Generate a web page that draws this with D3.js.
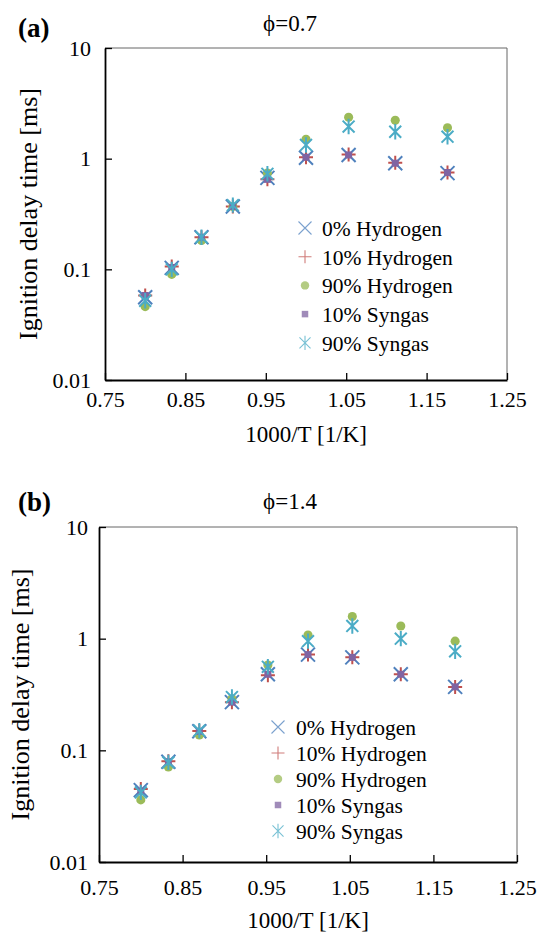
<!DOCTYPE html>
<html>
<head>
<meta charset="utf-8">
<script src="https://cdn.jsdelivr.net/npm/d3@7"></script>
<style>
	body { margin: 0; background: #fff; }
	svg { display: block; font-family: 'Liberation Serif', 'Times New Roman', serif; }
</style>
</head>
<body>
<div class="svg-container"></div>
<script>
const w = 539;
const h = 934;

// 1000/T [1/K]
const invT = [0.8, 0.833, 0.87, 0.909, 0.952, 1.0, 1.053, 1.111, 1.176];

const seriesNames = ['0% Hydrogen', '10% Hydrogen', '90% Hydrogen', '10% Syngas', '90% Syngas'];
const xTicks = [0.75, 0.85, 0.95, 1.05, 1.15, 1.25];
const yTicks = [0.01, 0.1, 1, 10];

// phi = 0.7, ignition delay [ms]
const phi07H0 = [0.056, 0.103, 0.195, 0.37, 0.67, 1.02, 1.08, 0.91, 0.74];
const phi07H10 = [0.058, 0.106, 0.195, 0.37, 0.65, 1.03, 1.09, 0.92, 0.75];
const phi07H90 = [0.046, 0.09, 0.182, 0.37, 0.74, 1.5, 2.37, 2.22, 1.9];
const phi07S10 = [0.058, 0.104, 0.195, 0.37, 0.65, 1.03, 1.08, 0.91, 0.75];
const phi07S90 = [0.052, 0.1, 0.195, 0.38, 0.73, 1.33, 1.95, 1.75, 1.58];

// phi = 1.4
const phi14H0 = [0.044, 0.079, 0.148, 0.27, 0.48, 0.72, 0.68, 0.48, 0.37];
const phi14H10 = [0.045, 0.08, 0.149, 0.27, 0.47, 0.72, 0.68, 0.48, 0.37];
const phi14H90 = [0.036, 0.071, 0.137, 0.29, 0.58, 1.08, 1.58, 1.3, 0.95];
const phi14S10 = [0.043, 0.079, 0.148, 0.27, 0.48, 0.72, 0.68, 0.48, 0.37];
const phi14S90 = [0.042, 0.078, 0.15, 0.3, 0.56, 0.95, 1.3, 1.0, 0.77];

const colors = ['#4F81BD', '#C0504D', '#9BBB59', '#8064A2', '#4BACC6'];
const markers = ['times', 'plus', 'circle', 'square', 'asterisk'];

const svg = d3
	.select('.svg-container')
	.append('svg')
	.attr('width', w)
	.attr('height', h)
	.attr('viewBox', `0 0 ${w} ${h}`)
	.style('background-color', '#fff');

const panels = [
	{
		tag: '(a)',
		title: '\u03d5=0.7',
		series: [phi07H0, phi07H10, phi07H90, phi07S10, phi07S90],
		box: {l: 105, r: 507, t: 48, b: 380},
		tagY: 37, titleY: 31,
		yLabPad: 14, xLabPad: 11, xTitleY: 442, yTitleX: 37,
		legend: {x: 305, y: 228, dy: 28.7, tx: 322},
	},
	{
		tag: '(b)',
		title: '\u03d5=1.4',
		series: [phi14H0, phi14H10, phi14H90, phi14S10, phi14S90],
		box: {l: 99, r: 517, t: 527, b: 862},
		tagY: 511, titleY: 509,
		yLabPad: 11, xLabPad: 17, xTitleY: 928, yTitleX: 29,
		legend: {x: 278, y: 727, dy: 26, tx: 296},
	},
];

// marker paths, centred on 0,0
const markerPath = (type, s) => {
	if (type === 'times') return `M${-s},${-s}L${s},${s}M${-s},${s}L${s},${-s}`;
	if (type === 'plus') return `M${-s},0L${s},0M0,${-s}L0,${s}`;
	if (type === 'asterisk') {
		const a = s * 0.85;
		return `M${-a},${-a}L${a},${a}M${-a},${a}L${a},${-a}M0,${-s * 1.1}L0,${s * 1.1}`;
	}
	return '';
};

const drawMarker = (g, type, color, size, sw) => {
	if (type === 'circle') {
		g.append('circle').attr('r', size * 0.65).attr('fill', color);
	} else if (type === 'square') {
		g.append('rect')
			.attr('x', -size * 0.5)
			.attr('y', -size * 0.5)
			.attr('width', size)
			.attr('height', size)
			.attr('fill', color);
	} else {
		g.append('path')
			.attr('d', markerPath(type, size))
			.attr('stroke', color)
			.attr('stroke-width', sw)
			.attr('fill', 'none');
	}
};

panels.forEach(p => {
	const {l, r, t, b} = p.box;

	const xScale = d3.scaleLinear().domain([0.75, 1.25]).range([l, r]);
	const yScale = d3.scaleLog().domain([0.01, 10]).range([b, t]);

	// frame: grey top/right
	svg
		.append('path')
		.attr('d', `M${l},${t}H${r}V${b}`)
		.attr('fill', 'none')
		.attr('stroke', '#666')
		.attr('stroke-width', 1);

	const xAxis = d3
		.axisBottom(xScale)
		.tickValues(xTicks)
		.tickSizeInner(-7)
		.tickSizeOuter(0)
		.tickPadding(p.xLabPad)
		.tickFormat(d3.format('.2f'));

	const gx = svg
		.append('g')
		.attr('transform', `translate(0, ${b})`)
		.call(xAxis);

	const yAxis = d3
		.axisLeft(yScale)
		.tickValues(yTicks)
		.tickSizeInner(-7)
		.tickSizeOuter(0)
		.tickPadding(p.yLabPad)
		.tickFormat(d => d);

	const gy = svg
		.append('g')
		.attr('transform', `translate(${l}, 0)`)
		.call(yAxis);

	[gx, gy].forEach(g => {
		g.attr('font-family', null).attr('font-size', null);
		g.select('.domain').attr('stroke', '#000').attr('stroke-width', 1.8);
		g.selectAll('.tick line').attr('stroke', '#000').attr('stroke-width', 1.3);
		g.selectAll('.tick text')
			.attr('fill', '#000')
			.style('font-size', '22px');
	});

	// data points
	p.series.forEach((vals, si) => {
		svg
			.append('g')
			.selectAll('g')
			.data(vals)
			.enter()
			.append('g')
			.attr('transform', (d, i) => `translate(${xScale(invT[i])}, ${yScale(d)})`)
			.each(function () {
				drawMarker(d3.select(this), markers[si], colors[si], 7, 2);
			});
	});

	// legend
	seriesNames.forEach((name, si) => {
		const gl = svg
			.append('g')
			.attr('transform', `translate(${p.legend.x}, ${p.legend.y + si * p.legend.dy})`);
		gl.append('g').style('opacity', 0.75).call(g => drawMarker(g, markers[si], colors[si], 6.5, 1.1));
		gl.append('text')
			.attr('x', p.legend.tx - p.legend.x)
			.attr('y', 8)
			.style('font-size', '21.5px')
			.text(name);
	});

	// titles
	svg
		.append('text')
		.attr('x', 18)
		.attr('y', p.tagY)
		.style('font-size', '27px')
		.style('font-weight', 'bold')
		.text(p.tag);

	svg
		.append('text')
		.attr('x', 290)
		.attr('y', p.titleY)
		.style('text-anchor', 'middle')
		.style('font-size', '23px')
		.text(p.title);

	svg
		.append('text')
		.attr('x', (l + r) / 2)
		.attr('y', p.xTitleY)
		.style('text-anchor', 'middle')
		.style('font-size', '23px')
		.text('1000/T  [1/K]');

	svg
		.append('text')
		.attr('transform', `translate(${p.yTitleX}, ${(t + b) / 2}) rotate(-90)`)
		.style('text-anchor', 'middle')
		.style('font-size', '26px')
		.text('Ignition delay time [ms]');
});
</script>
</body>
</html>
